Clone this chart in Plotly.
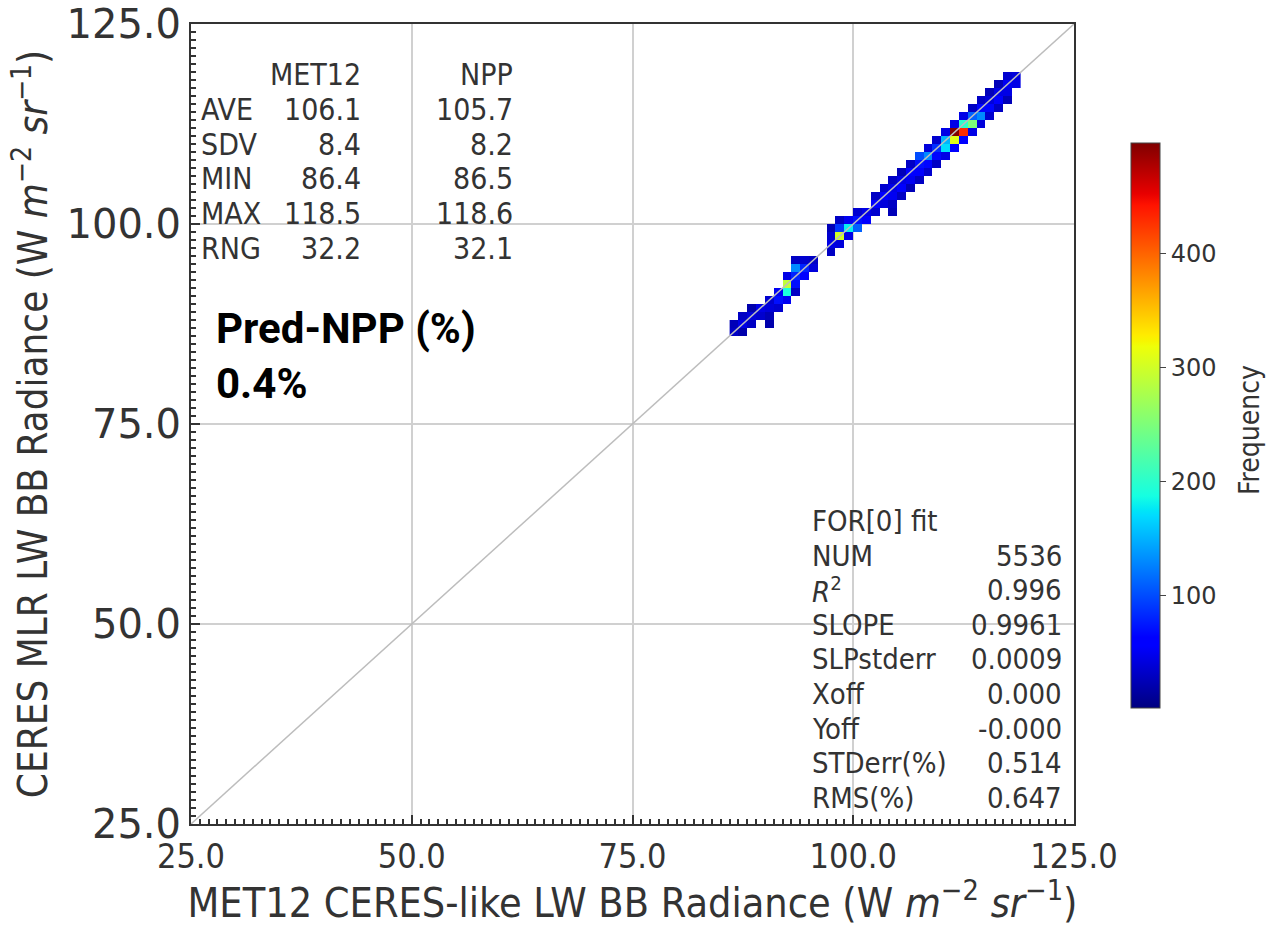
import numpy as np
import plotly.graph_objects as go

# ---- data: 2-D histogram cells (bin left edge, 1-unit bins) ----
x_bin = [86, 86,
         87, 87, 87,
         88, 88, 88,
         89, 89,
         90, 90, 90, 90,
         91, 91, 91,
         92, 92, 92, 92,
         93, 93, 93, 93, 93,
         94, 94, 94,
         95, 95,
         97, 97, 97, 97,
         98, 98, 98, 98,
         99, 99, 99,
         100, 100, 100,
         101, 101,
         102, 102, 102,
         103, 103, 103,
         104, 104, 104, 104, 104,
         105, 105, 105, 105,
         106, 106, 106, 106,
         107, 107, 107, 107,
         108, 108, 108, 108,
         109, 109, 109, 109,
         110, 110, 110, 110,
         111, 111, 111, 111,
         112, 112, 112, 112,
         113, 113, 113, 113,
         114, 114, 114, 114,
         115, 115, 115, 115,
         116, 116, 116, 116,
         117, 117, 117, 117,
         118, 118]
y_bin = [86, 87,
         86, 87, 88,
         87, 88, 89,
         88, 89,
         87, 88, 89, 90,
         89, 90, 91,
         90, 91, 92, 93,
         91, 92, 93, 94, 95,
         93, 94, 95,
         94, 95,
         96, 97, 98, 99,
         97, 98, 99, 100,
         98, 99, 100,
         99, 100, 101,
         100, 101,
         101, 102, 103,
         102, 103, 104,
         101, 102, 103, 104, 105,
         103, 104, 105, 106,
         104, 105, 106, 107,
         105, 106, 107, 108,
         106, 107, 108, 109,
         107, 108, 109, 110,
         108, 109, 110, 111,
         109, 110, 111, 112,
         110, 111, 112, 113,
         111, 112, 113, 114,
         112, 113, 114, 115,
         113, 114, 115, 116,
         114, 115, 116, 117,
         115, 116, 117, 118,
         117, 118]
counts = [30, 25,
          20, 45, 30,
          30, 40, 20,
          35, 45,
          20, 25, 40, 35,
          35, 70, 50,
          50, 190, 290, 45,
          30, 70, 80, 130, 30,
          60, 80, 35,
          40, 30,
          30, 45, 35, 25,
          40, 300, 90, 30,
          45, 180, 50,
          110, 70, 35,
          55, 45,
          35, 55, 30,
          40, 55, 35,
          25, 30, 50, 45, 30,
          30, 55, 45, 25,
          25, 50, 60, 30,
          30, 55, 70, 100,
          35, 65, 130, 40,
          30, 65, 85, 35,
          45, 170, 150, 45,
          55, 310, 497, 45,
          60, 430, 200, 45,
          45, 250, 110, 30,
          40, 130, 65, 30,
          35, 65, 40, 25,
          30, 55, 45, 25,
          25, 45, 50, 35,
          45, 40]

axis_ticks = [25, 50, 75, 100, 125]
axis_ticktext = ["25.0", "50.0", "75.0", "100.0", "125.0"]
cbar_ticks = [100, 200, 300, 400]

stat_labels = ["AVE", "SDV", "MIN", "MAX", "RNG"]
met12_vals = ["106.1", "8.4", "86.4", "118.5", "32.2"]
npp_vals = ["105.7", "8.2", "86.5", "118.6", "32.1"]

fit_labels = ["NUM", "<i>R</i><sup>2</sup>", "SLOPE", "SLPstderr", "Xoff", "Yoff",
              "STDerr(%)", "RMS(%)"]
fit_vals = ["5536", "0.996", "0.9961", "0.0009", "0.000", "-0.000", "0.514", "0.647"]

# ---- grid ----
lo, hi = 86, 119
centers = np.arange(lo, hi) + 0.5
Z = np.full((hi - lo, hi - lo), np.nan)
for xb, yb, c in zip(x_bin, y_bin, counts):
    Z[yb - lo, xb - lo] = c

jet = [[0.0, "rgb(0,0,128)"], [0.11, "rgb(0,0,255)"], [0.125, "rgb(0,0,255)"],
       [0.34, "rgb(0,219,255)"], [0.35, "rgb(0,230,247)"], [0.375, "rgb(21,255,226)"],
       [0.64, "rgb(239,255,8)"], [0.65, "rgb(247,245,0)"], [0.66, "rgb(255,236,0)"],
       [0.89, "rgb(255,19,0)"], [0.91, "rgb(232,0,0)"], [1.0, "rgb(128,0,0)"]]

# plot area in pixels
W, H = 1267, 927
L, R, T, B = 191, 1074, 24, 824
pw, ph = R - L, B - T


def px(xp):
    return (xp - L) / pw


def py(yp):
    return (B - yp) / ph


COND = "DejaVu Sans Condensed, DejaVu Sans"
TXT = "#333"
fig = go.Figure()
fig.add_trace(go.Heatmap(
    x=centers, y=centers, z=Z, colorscale=jet, zmin=1, zmax=max(counts),
    hoverongaps=False,
    colorbar=dict(
        x=px(1131), xanchor="left", y=py(425.5), yanchor="middle",
        xpad=0, ypad=0,
        thickness=29, len=565, lenmode="pixels",
        outlinewidth=1, outlinecolor="#444",
        tickvals=cbar_ticks, ticks="outside", ticklen=6, tickcolor="#444",
        tickfont=dict(family="DejaVu Sans", size=24, color=TXT),
    ),
))
fig.add_trace(go.Scatter(x=[25, 125], y=[25, 125], mode="lines",
                         line=dict(color="#bdbdbd", width=1.5),
                         hoverinfo="skip", showlegend=False))

common = dict(range=[25, 125], tickvals=axis_ticks, ticktext=axis_ticktext,
              showgrid=True, gridcolor="#d0d0d0", gridwidth=1.5,
              showline=True, linecolor="#333", linewidth=2, mirror=True,
              ticks="inside", ticklen=9, tickwidth=2, tickcolor="#333",
              minor=dict(dtick=1, tick0=25, ticks="inside", ticklen=5,
                         tickwidth=1.5, tickcolor="#333", showgrid=False),
              zeroline=False)

fig.update_xaxes(**common,
                 tickfont=dict(family=COND, size=34, color=TXT),
                 ticklabelstandoff=1,
                 title=dict(text="MET12 CERES-like LW BB Radiance (W <i>m</i><sup>−2</sup> <i>sr</i><sup>−1</sup>)",
                            font=dict(family=COND, size=41, color=TXT), standoff=10))
fig.update_yaxes(**common,
                 tickfont=dict(family="DejaVu Sans", size=40, color=TXT),
                 title=dict(text="CERES MLR LW BB Radiance (W <i>m</i><sup>−2</sup> <i>sr</i><sup>−1</sup>)",
                            font=dict(family=COND, size=40, color=TXT), standoff=6))

ann = []
tfont = dict(family=COND, size=30, color=TXT)
row0, dy = 75, 34.6
ann.append(dict(x=px(363), y=py(row0), text="MET12", xanchor="right", yanchor="middle", font=tfont))
ann.append(dict(x=px(515), y=py(row0), text="NPP", xanchor="right", yanchor="middle", font=tfont))
for i, (lab, a, b) in enumerate(zip(stat_labels, met12_vals, npp_vals)):
    yy = py(row0 + dy * (i + 1))
    ann.append(dict(x=px(199), y=yy, text=lab, xanchor="left", yanchor="middle", font=tfont))
    ann.append(dict(x=px(363), y=yy, text=a, xanchor="right", yanchor="middle", font=tfont))
    ann.append(dict(x=px(515), y=yy, text=b, xanchor="right", yanchor="middle", font=tfont))

ffont = dict(family=COND, size=29, color=TXT)
frow0 = 521
ann.append(dict(x=px(810), y=py(frow0), text="FOR[0] fit", xanchor="left", yanchor="middle", font=ffont))
for i, (lab, v) in enumerate(zip(fit_labels, fit_vals)):
    yy = py(frow0 + dy * (i + 1))
    ann.append(dict(x=px(810), y=yy, text=lab, xanchor="left", yanchor="middle", font=ffont))
    ann.append(dict(x=px(1064), y=yy, text=v, xanchor="right", yanchor="middle", font=ffont))

bfont = dict(family="Roboto, Liberation Sans, sans-serif", size=42, color="#000", weight="bold")
ann.append(dict(x=px(214), y=py(328), text="Pred-NPP (%)", xanchor="left", yanchor="middle", font=bfont))
ann.append(dict(x=px(214), y=py(384), text="0.4%", xanchor="left", yanchor="middle", font=bfont))

# colorbar label
ann.append(dict(x=px(1249), y=py(430), text="Frequency", textangle=-90,
                xanchor="center", yanchor="middle",
                font=dict(family=COND, size=28, color=TXT)))

for a in ann:
    a.update(xref="paper", yref="paper", showarrow=False)

fig.update_layout(
    width=W, height=H, margin=dict(l=L, r=W - R, t=T, b=H - B, autoexpand=False),
    plot_bgcolor="white", paper_bgcolor="white", annotations=ann, showlegend=False,
)
fig.write_html("out.html")
